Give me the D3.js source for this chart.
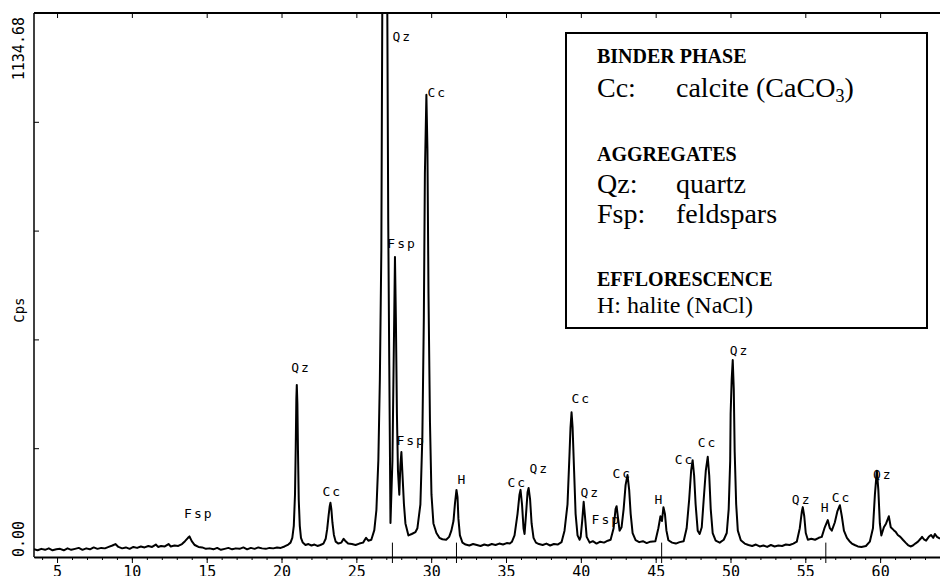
<!DOCTYPE html>
<html>
<head>
<meta charset="utf-8">
<script src="https://cdn.jsdelivr.net/npm/d3@7"></script>
<style>
  body { margin: 0; background: #fff; }
  svg { display: block; }
</style>
</head>
<body>
<svg width="940" height="576"></svg>
<script>
// traced XRD pattern: 2-theta (deg) and counts per second
var twoTheta = [3.46,3.7,3.95,4.2,4.45,4.7,4.95,5.2,5.45,5.7,5.95,6.2,6.45,6.7,6.95,7.2,7.45,7.7,7.95,8.2,8.45,8.7,8.9,9.1,9.35,9.6,9.85,10.1,10.35,10.6,10.85,11.1,11.35,11.6,11.75,11.95,12.2,12.45,12.6,12.85,13.1,13.35,13.55,13.75,13.85,14.0,14.2,14.45,14.7,14.95,15.2,15.45,15.7,15.95,16.2,16.45,16.7,16.95,17.2,17.45,17.7,17.95,18.2,18.45,18.7,18.95,19.2,19.45,19.7,19.95,20.2,20.45,20.6,20.72,20.82,20.9,20.95,20.99,21.02,21.06,21.1,21.15,21.22,21.3,21.42,21.6,21.8,22.0,22.2,22.4,22.6,22.8,22.95,23.05,23.15,23.22,23.27,23.33,23.4,23.5,23.62,23.8,24.0,24.15,24.25,24.45,24.7,24.95,25.2,25.45,25.65,25.8,26.0,26.2,26.34,26.47,26.57,26.67,26.74,26.82,26.9,26.98,27.06,27.13,27.2,27.28,27.41,27.51,27.58,27.64,27.71,27.78,27.87,27.94,28.01,28.07,28.18,28.28,28.48,28.7,28.95,29.08,29.28,29.41,29.51,29.58,29.68,29.75,29.82,29.92,30.02,30.15,30.35,30.55,30.75,31.0,31.2,31.35,31.49,31.59,31.69,31.76,31.82,31.92,32.09,32.3,32.55,32.8,33.05,33.3,33.55,33.8,34.05,34.3,34.55,34.8,35.05,35.25,35.4,35.57,35.77,35.9,35.97,36.07,36.17,36.24,36.34,36.44,36.51,36.61,36.71,36.84,37.0,37.2,37.45,37.7,37.95,38.2,38.45,38.71,38.91,39.11,39.25,39.31,39.38,39.45,39.55,39.65,39.78,39.92,39.99,40.09,40.19,40.29,40.39,40.59,40.8,41.05,41.3,41.55,41.8,41.99,42.19,42.32,42.39,42.49,42.59,42.72,42.86,42.99,43.12,43.23,43.33,43.46,43.66,43.9,44.15,44.4,44.65,44.98,45.18,45.32,45.42,45.52,45.62,45.72,45.85,46.1,46.35,46.6,46.87,47.07,47.24,47.37,47.47,47.57,47.67,47.81,47.94,48.08,48.21,48.35,48.48,48.58,48.68,48.81,49.01,49.28,49.55,49.75,49.88,49.98,50.01,50.08,50.15,50.22,50.28,50.38,50.49,50.69,50.95,51.2,51.45,51.7,51.95,52.2,52.45,52.7,52.95,53.2,53.45,53.7,53.95,54.2,54.43,54.63,54.77,54.83,54.93,55.03,55.17,55.4,55.65,55.9,56.1,56.3,56.5,56.64,56.77,56.97,57.14,57.31,57.44,57.58,57.78,57.95,58.11,58.3,58.51,58.75,59.05,59.31,59.52,59.65,59.78,59.88,59.98,60.08,60.25,60.4,60.58,60.71,60.91,61.05,61.18,61.35,61.52,61.7,61.86,62.03,62.19,62.35,62.53,62.7,62.8,62.95,63.07,63.25,63.4,63.55,63.66,63.8,64.0]
var cps = [16,14,17,15,18,14,16,17,14,18,15,17,19,15,18,16,20,17,19,18,21,24,27,21,18,20,17,21,19,22,20,23,21,26,21,23,22,27,22,24,23,27,33,40,43,33,25,21,20,17,18,16,19,15,17,19,16,18,17,20,16,19,17,20,18,17,19,18,20,19,22,26,30,40,65,130,230,330,359,320,220,120,65,40,30,25,27,24,26,23,25,28,38,58,88,106,113,100,72,46,32,28,30,38,34,28,27,25,28,30,40,34,36,56,98,202,369,640,1200,2000,2500,2000,1200,700,400,71,200,450,626,500,300,180,130,190,219,180,110,70,45,48,52,60,110,250,500,800,964,850,550,280,130,70,50,40,37,36,42,55,75,112,140,125,80,45,30,26,24,27,25,23,26,24,27,25,28,26,29,28,32,45,90,130,140,110,60,48,90,135,144,120,70,40,30,27,25,28,24,27,26,31,55,110,220,270,302,270,180,90,45,36,42,75,115,80,42,30,33,28,32,30,34,36,60,100,106,80,55,62,100,150,171,140,90,50,35,31,33,29,32,33,60,85,75,104,90,55,35,30,28,31,33,60,120,180,202,170,110,55,48,62,120,180,209,170,100,50,34,30,36,50,100,200,300,370,411,350,220,110,55,35,28,25,23,26,22,24,21,25,22,24,23,26,25,28,32,60,95,104,85,50,36,38,36,40,42,62,77,60,55,72,95,108,85,55,40,33,28,25,22,21,23,32,60,130,180,140,70,45,62,70,85,62,56,52,46,42,36,30,25,22,24,28,32,38,42,36,34,42,46,40,48,42,38]

// axis settings
var yMax = 1134.68
var majorTicks = [5,10,15,20,25,30,35,40,45,50,55,60]
var minorTicks = d3.range(4, 64, 1)
var yTicks = [0, 226.936, 453.872, 680.808, 907.744, 1134.68]

// phase labels: text, left edge (2-theta), baseline (cps)
var labelText  = ["Fsp","Qz","Cc","Qz","Cc","Fsp","Fsp","H","Cc","Qz","Cc","Qz","Fsp","Cc","H","Cc","Cc","Qz","Qz","H","Cc","Qz"]
var labelTheta = [13.49,20.65,22.73,27.41,29.75,27.07,27.68,31.76,35.1,36.57,39.38,39.98,40.72,42.12,44.93,46.27,47.81,49.95,54.1,56.03,56.77,59.52]
var labelCps   = [81,386,127,1076,960,645,234,152,146,175,321,125,69,165,111,194,229,421,111,94,115,163]

// instrument marker sticks
var markTheta = [27.41, 31.69, 45.4, 56.37]

var svg = d3.select("svg")
var pL = 34, pT = 13, pB = 557, pR = 940

var x = d3.scaleLinear().domain([3.46, 64.0]).range([pL, pR])
var y = d3.scaleLinear().domain([0, yMax]).range([pB, pT])

svg.append("clipPath").attr("id", "plot")
  .append("rect").attr("x", pL).attr("y", pT).attr("width", pR-pL).attr("height", pB-pT)

// frame lines
svg.append("line").attr("x1", pL).attr("x2", pR).attr("y1", pT).attr("y2", pT)
  .attr("stroke", "#000").attr("stroke-width", 2)
svg.append("line").attr("x1", pL).attr("x2", pL).attr("y1", pT).attr("y2", pB)
  .attr("stroke", "#000").attr("stroke-width", 1.5)

// bottom axis, minor then major
svg.append("g").attr("transform", "translate(0,"+pB+")")
  .call(d3.axisBottom(x).tickValues(minorTicks).tickSize(3).tickFormat(""))
  .call(g => g.select(".domain").remove())
var xAxis = svg.append("g").attr("transform", "translate(0,"+pB+")")
  .call(d3.axisBottom(x).tickValues(majorTicks).tickSize(6).tickSizeOuter(0).tickPadding(3).tickFormat(d3.format("d")))
xAxis.select(".domain").attr("stroke-width", 2)
xAxis.selectAll("text").attr("font-family", "DejaVu Sans Mono").attr("font-size", 15).attr("fill", "#000")

// top axis ticks
svg.append("g").attr("transform", "translate(0,"+pT+")")
  .call(d3.axisBottom(x).tickValues(majorTicks).tickSize(5).tickFormat(""))
  .call(g => g.select(".domain").remove())

// left axis ticks (inward)
svg.append("g").attr("transform", "translate("+pL+",0)")
  .call(d3.axisRight(y).tickValues(yTicks).tickSize(5).tickFormat(""))
  .call(g => g.select(".domain").remove())

// y labels, rotated
var yl = [[yMax, "end", "1134.68"], [0, "start", "0.00"]]
svg.selectAll(".ylab").data(yl).enter().append("text")
  .attr("transform", d => "translate(24,"+(d[0] == 0 ? pB : y(d[0])+4)+") rotate(-90)")
  .attr("text-anchor", d => d[1])
  .attr("font-family", "DejaVu Sans Mono").attr("font-size", 15)
  .text(d => d[2])
svg.append("text")
  .attr("transform", "translate(24,"+y(515)+") rotate(-90)")
  .attr("text-anchor", "middle")
  .attr("font-family", "DejaVu Sans Mono").attr("font-size", 14)
  .text("Cps")

// marker sticks
svg.selectAll(".mark").data(markTheta).enter().append("line")
  .attr("x1", d => x(d)).attr("x2", d => x(d))
  .attr("y1", y(30)).attr("y2", pB+6)
  .attr("stroke", "#000").attr("stroke-width", 1)

// pattern
var line = d3.line().x((d, i) => x(twoTheta[i])).y(d => y(d))
svg.append("path").datum(cps)
  .attr("clip-path", "url(#plot)")
  .attr("d", line)
  .attr("fill", "none").attr("stroke", "#000").attr("stroke-width", 2)
  .attr("stroke-linejoin", "round")

// peak labels
svg.selectAll(".plab").data(labelText).enter().append("text")
  .attr("x", (d, i) => x(labelTheta[i]))
  .attr("y", (d, i) => y(labelCps[i]))
  .attr("font-family", "DejaVu Sans Mono").attr("font-size", 13)
  .attr("letter-spacing", 2)
  .text(d => d)

// legend box
var lg = svg.append("g").attr("font-family", "Liberation Serif").attr("fill", "#000")
lg.append("rect").attr("x", 566).attr("y", 33).attr("width", 361).attr("height", 295)
  .attr("fill", "#fff").attr("stroke", "#000").attr("stroke-width", 2)
var heads = [["BINDER PHASE", 63], ["AGGREGATES", 161], ["EFFLORESCENCE", 286]]
lg.selectAll(".hd").data(heads).enter().append("text")
  .attr("x", 597).attr("y", d => d[1])
  .attr("font-weight", "bold").attr("font-size", 20)
  .text(d => d[0])
var rows = [["Cc:", "calcite (CaCO", 97], ["Qz:", "quartz", 193], ["Fsp:", "feldspars", 223]]
lg.selectAll(".k").data(rows).enter().append("text")
  .attr("x", 597).attr("y", d => d[2]).attr("font-size", 28).text(d => d[0])
var vals = lg.selectAll(".v").data(rows).enter().append("text")
  .attr("x", 676).attr("y", d => d[2]).attr("font-size", 28).text(d => d[1])
vals.filter((d, i) => i == 0).each(function() {
  var t = d3.select(this)
  t.append("tspan").attr("font-size", 18).attr("dy", 5).text("3")
  t.append("tspan").attr("dy", -5).text(")")
})
lg.append("text").attr("x", 597).attr("y", 313).attr("font-size", 24).text("H: halite (NaCl)")
</script>
</body>
</html>
